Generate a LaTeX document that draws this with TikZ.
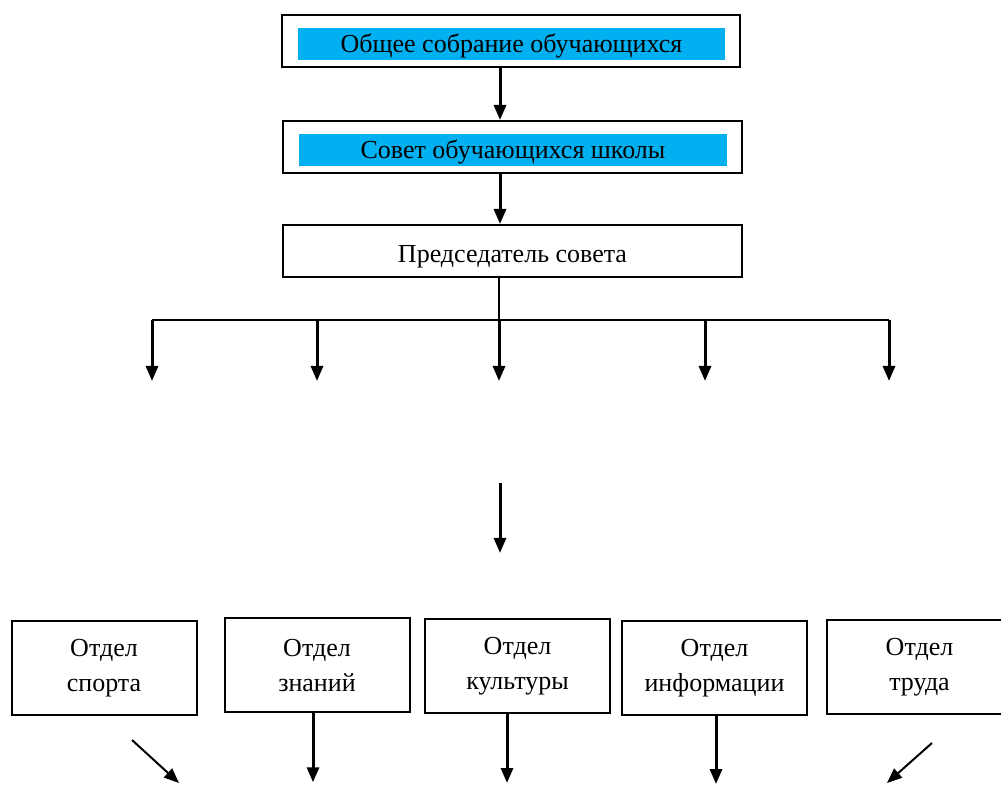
\documentclass[tikz,border=0pt]{standalone}
\usepackage{fontspec}
\setmainfont{Liberation Serif}
\usepackage{xcolor}
\usetikzlibrary{arrows.meta, positioning}
\definecolor{barblue}{RGB}{0,176,240}

\begin{document}
\begin{tikzpicture}[x=0.5pt, y=-0.5pt,
  every node/.style={font=\fontsize{13}{17.5}\selectfont, align=center},
  box/.style={draw, line width=1pt, inner sep=0pt},
  bar/.style={fill=barblue, inner sep=0pt, minimum height=16pt},
  arr/.style={-{Triangle[length=7.5pt, width=6pt]}, line width=1.5pt},
  dept/.style={box, minimum width=92.5pt, minimum height=47pt}]
  \useasboundingbox (0,0) rectangle (1001,785);

  % Council levels
  \node[box, minimum width=229pt, minimum height=26pt] (A) at (511,41) {};
  \node[bar, minimum width=213.5pt] (Abar) at (511.5,44) {\raisebox{-4.3pt}[0pt][0pt]{Общее собрание обучающихся}};
  \node[box, minimum width=229.5pt, minimum height=26pt] (B) at (512.5,147) {};
  \node[bar, minimum width=214pt] (Bbar) at (513,150) {\raisebox{-4.3pt}[0pt][0pt]{Совет обучающихся школы}};
  \node[box, minimum width=229.5pt, minimum height=26pt] (C) at (512.5,251) {\raisebox{-6pt}[0pt][0pt]{Председатель совета}};
  \draw[arr] ([xshift=-5.5pt]A.south) -- ([xshift=-5.5pt]A.south |- B.north);
  \draw[arr] ([xshift=-6.25pt]B.south) -- ([xshift=-6.25pt]B.south |- C.north);

  % Branching
  \coordinate (bus) at (499,320);
  \draw[line width=0.75pt] ([xshift=-6.75pt]C.south) -- (bus);
  \draw[line width=1.25pt] (152,320) coordinate (d1) -- (889,320) coordinate (d5);
  \foreach \x [count=\i] in {152,317,499,705,889}
    \draw[arr] (\x,320) coordinate (top\i) -- (\x,381) coordinate (tip\i);
  \coordinate (m1) at (500,483);
  \coordinate (m2) at (500,553);
  \draw[arr] (m1) -- (m2);

  % Departments
  \node[dept] (S1) at (104,668) {Отдел\\спорта};
  \node[dept] (S2) at (317,665.3) {Отдел\\знаний};
  \node[dept] (S3) at (517.5,666) {Отдел\\культуры};
  \node[dept] (S4) at (714.5,668) {Отдел\\информации};
  \node[dept] (S5) at (919.5,667) {Отдел\\труда};

  \coordinate (s1a) at (132,740);
  \coordinate (s1b) at (179,783);
  \draw[arr, line width=1pt] (s1a) -- (s1b);
  \draw[arr] ([xshift=-2pt]S2.south) -- ++(0,69);
  \draw[arr] ([xshift=-5.25pt]S3.south) -- ++(0,69);
  \draw[arr] ([xshift=0.75pt]S4.south) -- ++(0,68);
  \coordinate (s5a) at (932,743);
  \coordinate (s5b) at (887,783);
  \draw[arr, line width=1pt] (s5a) -- (s5b);
\end{tikzpicture}
\end{document}
